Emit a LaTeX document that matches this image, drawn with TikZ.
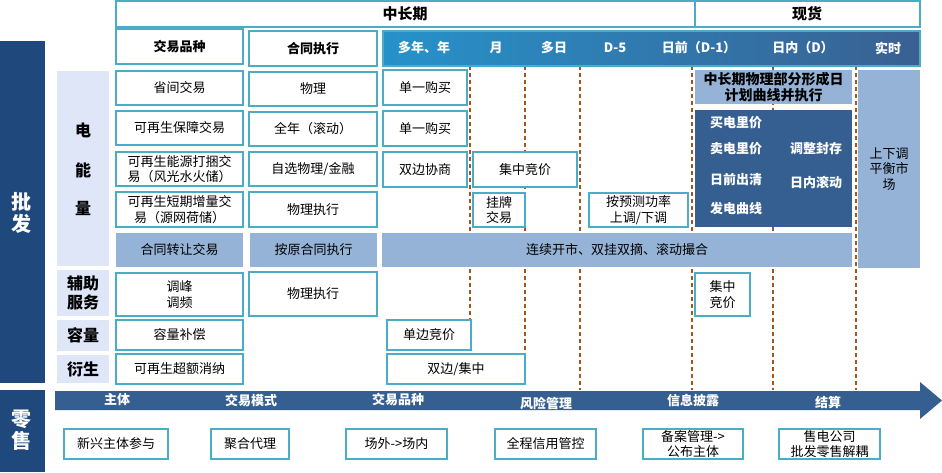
\documentclass[tikz,border=0pt]{standalone}
\usepackage{fontspec}
\setmainfont{Noto Sans CJK SC}
\definecolor{tealb}{RGB}{75,172,198}
\definecolor{navy}{RGB}{31,73,125}
\definecolor{lav}{RGB}{222,230,248}
\definecolor{lblue}{RGB}{149,179,215}
\definecolor{dblue}{RGB}{54,95,145}
\definecolor{hleft}{RGB}{38,146,202}
\definecolor{hright}{RGB}{58,96,146}
\definecolor{dashc}{RGB}{165,85,30}
\newcommand{\myfs}{\fontsize{13}{15.5}\selectfont}
\newcommand{\myfsb}{\fontsize{13}{15.5}\selectfont\bfseries}
\newcommand{\bx}[7]{\node[#6, minimum width={(#4-#2)*1pt}, minimum height={(#5-#3)*1pt}] (#1) at ({(#2+#4)/2},{(#3+#5)/2}) {#7};}
\tikzset{
  tbox/.style={draw=tealb, line width=1.3pt, fill=white, inner sep=0pt, font=\myfs, align=center},
  hbox/.style={tbox, font=\myfsb},
  fbox/.style={fill=lblue, inner sep=0pt, font=\myfs, align=center},
  lbox/.style={fill=lav, inner sep=0pt},
  nbox/.style={fill=navy, inner sep=0pt},
  dbox/.style={fill=dblue, inner sep=0pt},
  ltxt/.style={font=\fontsize{16}{19}\selectfont\bfseries, align=center, inner sep=0pt},
  btxt/.style={font=\fontsize{20}{22}\selectfont\bfseries, text=white, align=center, inner sep=0pt},
  wtxt/.style={font=\myfsb, text=white, inner sep=0pt},
  dline/.style={draw=dashc, line width=1.1pt, dash pattern=on 4pt off 3pt},
}
\begin{document}
\begin{tikzpicture}[x=1pt,y=-1pt]
\useasboundingbox (0,0) rectangle (942,472);
% dashed separators
\foreach \xx/\ye in {470/385, 525/368, 580/390, 692/390, 773/390, 856/390}
  \draw[dline] (\xx,66) -- (\xx,\ye);
% top header
\bx{hdr}{116}{1}{920}{27}{tbox}{}
\draw[draw=tealb, line width=1.3pt] (hdr.north west -| 695,0) -- (hdr.south west -| 695,0);
\node[font=\fontsize{15}{17}\selectfont\bfseries] (zcq) at (405,14) {中长期};
\node[font=\fontsize{15}{17}\selectfont\bfseries] (xh) at (807,14) {现货};
% second row
\bx{jypz}{116}{29}{243}{64}{hbox}{交易品种}
\bx{htzx}{249}{31}{377}{66}{hbox}{合同执行}
\node[draw=tealb, line width=1.3pt, left color=hleft, right color=hright, inner sep=0pt,
  minimum width=537pt, minimum height=35pt] (bar) at (651.5,48.5) {};
\node[wtxt] (h1) at (424,48) {多年、年};
\node[wtxt] (h2) at (496,48) {月};
\node[wtxt] (h3) at (554,48) {多日};
\node[wtxt] (h4) at (615,48) {D-5};
\node[wtxt] (h5) at (699,48) {日前（D-1）};
\node[wtxt] (h6) at (803,48) {日内（D）};
\node[wtxt] (h7) at (888,48) {实时};
% left blocks
\bx{pf}{0}{41}{45}{383}{nbox}{}
\node[btxt] (pft) at (22,213) {批\\发};
\bx{ls}{0}{390}{45}{472}{nbox}{}
\node[btxt] (lst) at (22,430) {零\\售};
\bx{dnl}{57}{71}{109}{266}{lbox}{}
\node[ltxt] (d1) at (83,130) {电};
\node[ltxt] (d2) at (83,170) {能};
\node[ltxt] (d3) at (83,208) {量};
\bx{fzfw}{57}{270}{109}{316}{lbox,ltxt}{辅助\\服务}
\bx{rl}{57}{320}{109}{351}{lbox,ltxt}{容量}
\bx{ys}{57}{355}{109}{383}{lbox,ltxt}{衍生}
% column 1
\bx{c11}{116}{71}{243}{105}{tbox}{省间交易}
\bx{c12}{116}{111}{243}{145}{tbox}{可再生保障交易}
\bx{c13}{116}{152}{243}{186}{tbox}{可再生能源打捆交\\易（风光水火储）}
\bx{c14}{116}{192}{243}{227}{tbox}{可再生短期增量交\\易（源网荷储）}
\bx{c15}{116}{233}{243}{267}{fbox}{合同转让交易}
\bx{c16}{116}{273}{243}{316}{tbox}{调峰\\调频}
\bx{c17}{116}{320}{243}{350}{tbox}{容量补偿}
\bx{c18}{116}{354}{243}{384}{tbox}{可再生超额消纳}
% column 2
\bx{c21}{249}{72}{377}{106}{tbox}{物理}
\bx{c22}{249}{112}{377}{146}{tbox}{全年（滚动）}
\bx{c23}{249}{152}{377}{186}{tbox}{自选物理/金融}
\bx{c24}{249}{192}{377}{227}{tbox}{物理执行}
\bx{c25}{250}{233}{377}{267}{fbox}{按原合同执行}
\bx{c26}{249}{272}{377}{316}{tbox}{物理执行}
% middle
\bx{m1}{383}{70}{467}{105}{tbox}{单一购买}
\bx{m2}{383}{111}{467}{146}{tbox}{单一购买}
\bx{m3}{383}{152}{467}{187}{tbox}{双边协商}
\bx{m4}{473}{152}{577}{187}{tbox}{集中竞价}
\bx{m5}{473}{193}{525}{227}{tbox}{挂牌\\交易}
\bx{m6}{589}{193}{688}{227}{tbox}{按预测功率\\上调/下调}
\bx{m7}{382}{233}{852}{267}{fbox}{连续开市、双挂双摘、滚动撮合}
\bx{m8}{387}{320}{471}{350}{tbox}{单边竞价}
\bx{m9}{387}{354}{525}{384}{tbox}{双边/集中}
\bx{m10}{695}{273}{750}{316}{tbox}{集中\\竞价}
% right
\bx{r1}{695}{70}{852}{104}{fbox}{\fontsize{14}{17}\selectfont\bfseries 中长期物理部分形成日\\\fontsize{14}{17}\selectfont\bfseries 计划曲线并执行}
\bx{r2}{695}{110}{852}{227}{dbox}{}
\node[wtxt] (r2a) at (736,123) {买电里价};
\node[wtxt] (r2b) at (736,149) {卖电里价};
\node[wtxt] (r2c) at (736,180) {日前出清};
\node[wtxt] (r2d) at (736,209) {发电曲线};
\node[wtxt] (r2e) at (816,149) {调整封存};
\node[wtxt] (r2f) at (816,183) {日内滚动};
\bx{r3}{858}{70}{920}{268}{fbox}{上下调\\平衡市\\场}
% bottom arrow
\fill[dblue] (55,391) -- (920,391) -- (920,382) -- (942,400.5) -- (920,419) -- (920,410) -- (55,410) -- cycle;
\node[wtxt] (a1) at (117,400) {主体};
\node[wtxt] (a2) at (251,401) {交易模式};
\node[wtxt] (a3) at (398,400) {交易品种};
\node[wtxt] (a4) at (546,403) {风险管理};
\node[wtxt] (a5) at (693,400) {信息披露};
\node[wtxt] (a6) at (828,402) {结算};
% bottom boxes
\bx{b1}{64}{429}{168}{459}{tbox}{新兴主体参与}
\bx{b2}{211}{429}{289}{459}{tbox}{聚合代理}
\bx{b3}{346}{429}{447}{459}{tbox}{场外->场内}
\bx{b4}{495}{429}{596}{459}{tbox}{全程信用管控}
\bx{b5}{643}{429}{743}{459}{tbox}{备案管理->\\公布主体}
\bx{b6}{779}{429}{880}{459}{tbox}{售电公司\\批发零售解耦}
\end{tikzpicture}
\end{document}
